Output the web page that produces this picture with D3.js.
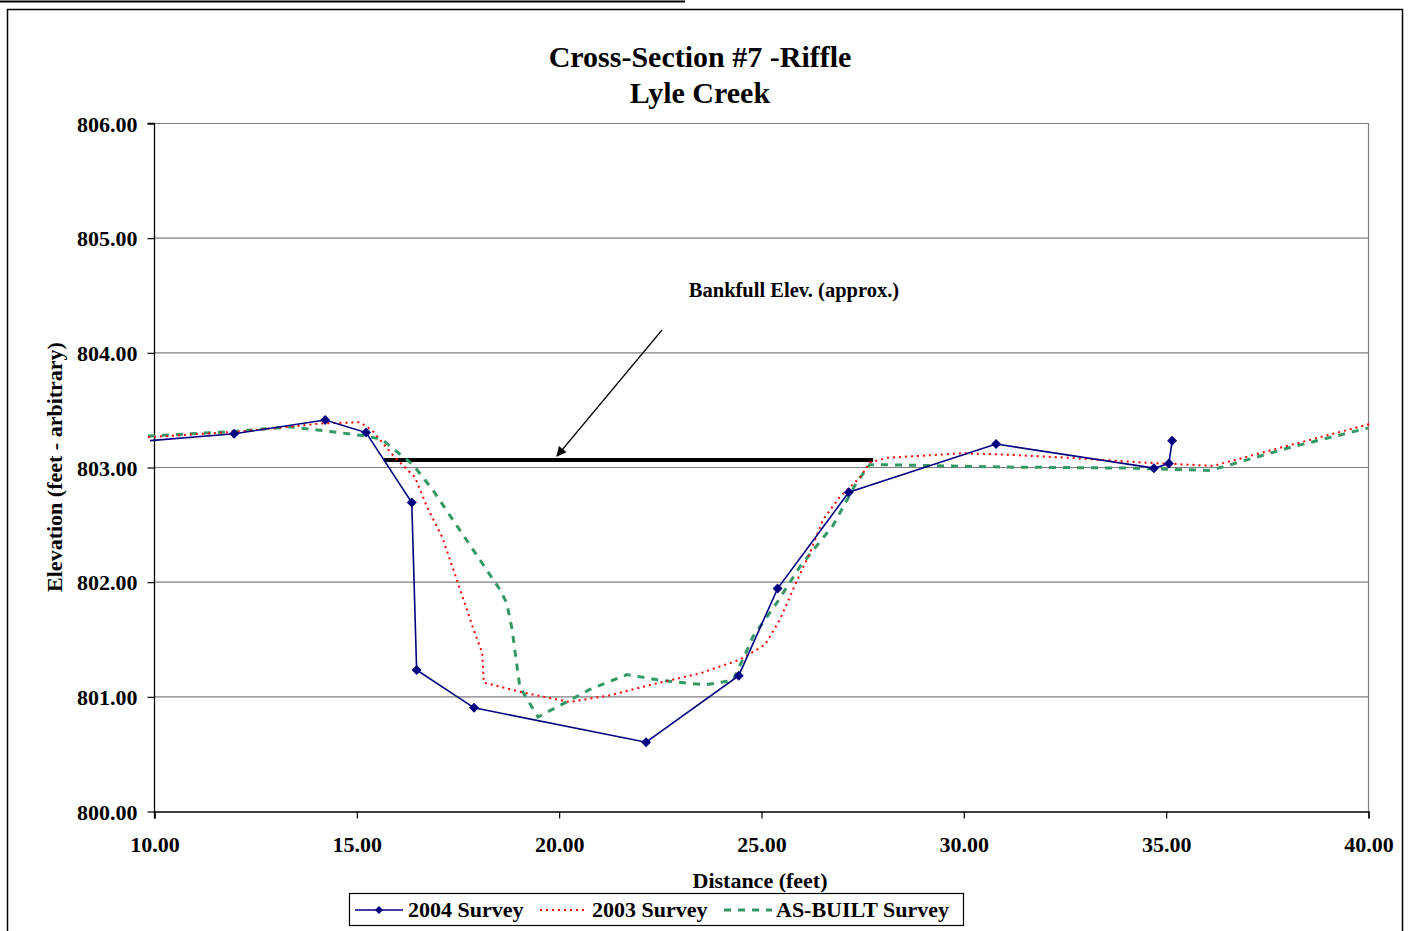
<!DOCTYPE html>
<html>
<head>
<meta charset="utf-8">
<script src="https://cdn.jsdelivr.net/npm/d3@7"></script>
<style>
  html, body { margin: 0; padding: 0; background: #fff; }
  svg { display: block; }
  text { font-family: "Liberation Serif", "Times New Roman", serif; font-weight: bold; fill: #000; }
</style>
</head>
<body>
<svg id="chart" width="1409" height="931"></svg>
<script>
// Axis ticks
const xTicks = [10, 15, 20, 25, 30, 35, 40];
const yTicks = [800, 801, 802, 803, 804, 805, 806];

// 2004 Survey (surveyed shots, diamond markers)
const s2004X = [9.9, 11.98, 14.23, 15.24, 16.37, 16.49, 17.91, 22.16, 24.45, 25.41, 27.17, 30.81, 34.71, 35.08, 35.16];
const s2004Y = [803.23, 803.29, 803.41, 803.30, 802.69, 801.23, 800.90, 800.60, 801.18, 801.94, 802.78, 803.20, 802.99, 803.03, 803.23];

// 2003 Survey
const s2003X = [9.85, 12.13, 14.15, 15.09, 15.39, 15.91, 16.45, 16.75, 17.12, 17.51, 17.88, 18.11, 18.15, 19.04, 19.71, 20.28, 21.27, 22.50, 23.49, 24.48, 25.10, 25.47, 25.89, 26.21, 26.53, 26.95, 27.45, 27.69, 28.11, 29.99, 30.90, 32.64, 34.39, 36.17, 38.07, 40.10];
const s2003Y = [803.26, 803.31, 803.38, 803.39, 803.32, 803.10, 802.91, 802.65, 802.39, 801.99, 801.60, 801.38, 801.12, 801.04, 800.99, 800.95, 801.01, 801.12, 801.20, 801.32, 801.45, 801.67, 802.01, 802.25, 802.54, 802.74, 802.91, 803.04, 803.08, 803.12, 803.11, 803.08, 803.04, 803.01, 803.19, 803.38];

// AS-BUILT Survey
const asBuiltX = [9.85, 11.98, 13.36, 14.35, 15.24, 15.63, 16.40, 16.89, 17.27, 18.13, 18.55, 18.72, 18.85, 19.04, 19.49, 20.03, 20.77, 21.69, 22.50, 23.62, 24.31, 24.60, 24.80, 25.40, 25.96, 26.78, 27.37, 27.69, 28.06, 30.90, 34.12, 36.10, 38.07, 40.00];
const asBuiltY = [803.27, 803.31, 803.35, 803.31, 803.27, 803.24, 803.02, 802.80, 802.60, 802.15, 801.93, 801.81, 801.58, 801.08, 800.82, 800.92, 801.06, 801.19, 801.14, 801.10, 801.14, 801.36, 801.52, 801.82, 802.13, 802.49, 802.87, 803.02, 803.02, 803.00, 802.99, 802.97, 803.17, 803.34];

// Approximate bankfull elevation segment
const bankfullX = [15.68, 27.77];
const bankfullY = 803.06;

const seriesNames = ["2004 Survey", "2003 Survey", "AS-BUILT Survey"];

const svg = d3.select("#chart");

// outer frame and top rule
svg.append("line").attr("x1", 0).attr("x2", 685).attr("y1", 1.5).attr("y2", 1.5)
  .attr("stroke", "#000").attr("stroke-width", 2);
svg.append("rect").attr("x", 7.5).attr("y", 9.5).attr("width", 1395).attr("height", 930)
  .attr("fill", "none").attr("stroke", "#000").attr("stroke-width", 1.5);

const plot = { left: 154, right: 1368, top: 123, bottom: 811 };
const x = d3.scaleLinear().domain([10, 40]).range([plot.left, plot.right]);
const y = d3.scaleLinear().domain([800, 806]).range([plot.bottom, plot.top]);

// horizontal gridlines
svg.append("g").selectAll("line").data(yTicks.filter(d => d > 800)).join("line")
  .attr("x1", plot.left).attr("x2", plot.right)
  .attr("y1", d => y(d) + 0.5).attr("y2", d => y(d) + 0.5)
  .attr("stroke", "#7f7f7f").attr("stroke-width", 1.2);
// right border of plot area
svg.append("line").attr("x1", plot.right + 0.5).attr("x2", plot.right + 0.5)
  .attr("y1", plot.top).attr("y2", plot.bottom)
  .attr("stroke", "#7f7f7f").attr("stroke-width", 1.2);

// axes
const yAxis = d3.axisLeft(y).tickValues(yTicks).tickFormat(d3.format(".2f")).tickSize(7).tickPadding(10);
const xAxis = d3.axisBottom(x).tickValues(xTicks).tickFormat(d3.format(".2f")).tickSize(7).tickPadding(18);

const gy = svg.append("g").attr("transform", `translate(${plot.left + 0.5},0.5)`).call(yAxis);
const gx = svg.append("g").attr("transform", `translate(0.5,${plot.bottom + 0.5})`).call(xAxis);
[gx, gy].forEach(g => {
  g.select(".domain").attr("stroke", "#000").attr("stroke-width", 1.3);
  g.selectAll(".tick line").attr("stroke", "#000").attr("stroke-width", 1.2);
  g.selectAll(".tick text").attr("font-size", 22).attr("font-family", "Liberation Serif").attr("font-weight", "bold").attr("fill", "#000");
});
gy.select(".domain").attr("d", `M-7,${plot.top}H0V${plot.bottom + 7}`);
gy.selectAll(".tick text").attr("dy", "0.35em");

// titles
svg.append("text").attr("x", 700).attr("y", 67).attr("text-anchor", "middle").attr("font-size", 30)
  .text("Cross-Section #7 -Riffle");
svg.append("text").attr("x", 700).attr("y", 103).attr("text-anchor", "middle").attr("font-size", 30)
  .text("Lyle Creek");
svg.append("text").attr("x", 760).attr("y", 888).attr("text-anchor", "middle").attr("font-size", 22)
  .text("Distance (feet)");
svg.append("text").attr("transform", "translate(62,467) rotate(-90)").attr("text-anchor", "middle").attr("font-size", 22)
  .text("Elevation (feet - arbitrary)");

// bankfull marker line, arrow and label
svg.append("defs").append("marker").attr("id", "arrowhead")
  .attr("viewBox", "0 0 10 10").attr("refX", 9).attr("refY", 5)
  .attr("markerWidth", 14).attr("markerHeight", 10).attr("markerUnits", "userSpaceOnUse")
  .attr("orient", "auto")
  .append("path").attr("d", "M0,0L10,5L0,10z").attr("fill", "#000");

svg.append("line")
  .attr("x1", x(bankfullX[0])).attr("x2", x(bankfullX[1]))
  .attr("y1", y(bankfullY)).attr("y2", y(bankfullY))
  .attr("stroke", "#000").attr("stroke-width", 4);

svg.append("line").attr("x1", 662).attr("y1", 330).attr("x2", 557).attr("y2", 456)
  .attr("stroke", "#000").attr("stroke-width", 1.2).attr("marker-end", "url(#arrowhead)");

svg.append("text").attr("x", 794).attr("y", 297).attr("text-anchor", "middle").attr("font-size", 20.5)
  .text("Bankfull Elev. (approx.)");

// series lines
const line = d3.line().x(d => x(d[0])).y(d => y(d[1]));
const zip = (xs, ys) => xs.map((v, i) => [v, ys[i]]);

svg.append("path").datum(zip(asBuiltX, asBuiltY)).attr("d", line)
  .attr("fill", "none").attr("stroke", "#339966").attr("stroke-width", 3)
  .attr("stroke-dasharray", "7,7");

svg.append("path").datum(zip(s2003X, s2003Y)).attr("d", line)
  .attr("fill", "none").attr("stroke", "#ff0000").attr("stroke-width", 2)
  .attr("stroke-dasharray", "2,4");

const d2004 = zip(s2004X, s2004Y);
svg.append("path").datum(d2004).attr("d", line)
  .attr("fill", "none").attr("stroke", "#000080").attr("stroke-width", 1.6);

// square diamond marker, 10px across
const diamond = "M0,-5L5,0L0,5L-5,0Z";
svg.append("g").selectAll("path").data(d2004.filter(d => d[0] >= 10)).join("path")
  .attr("transform", d => `translate(${x(d[0])},${y(d[1])})`)
  .attr("d", diamond).attr("fill", "#000080");

// legend
const lg = svg.append("g");
lg.append("rect").attr("x", 349.5).attr("y", 893.5).attr("width", 614).attr("height", 32)
  .attr("fill", "#fff").attr("stroke", "#000").attr("stroke-width", 1.2);
const ly = 910;
const legendItems = [
  { x1: 355, x2: 403, tx: 408, stroke: "#000080", w: 1.6, dash: null, marker: true },
  { x1: 540, x2: 588, tx: 592, stroke: "#ff0000", w: 2, dash: "2,4", marker: false },
  { x1: 724, x2: 772, tx: 776, stroke: "#339966", w: 3, dash: "7,7", marker: false }
];
legendItems.forEach((it, i) => {
  const l = lg.append("line").attr("x1", it.x1).attr("x2", it.x2).attr("y1", ly).attr("y2", ly)
    .attr("stroke", it.stroke).attr("stroke-width", it.w);
  if (it.dash) l.attr("stroke-dasharray", it.dash);
  if (it.marker) lg.append("path").attr("transform", `translate(${(it.x1 + it.x2) / 2},${ly})`)
    .attr("d", "M0,-4L4,0L0,4L-4,0Z").attr("fill", "#000080");
  lg.append("text").attr("x", it.tx).attr("y", ly + 7).attr("font-size", 22).text(seriesNames[i]);
});
</script>
</body>
</html>
